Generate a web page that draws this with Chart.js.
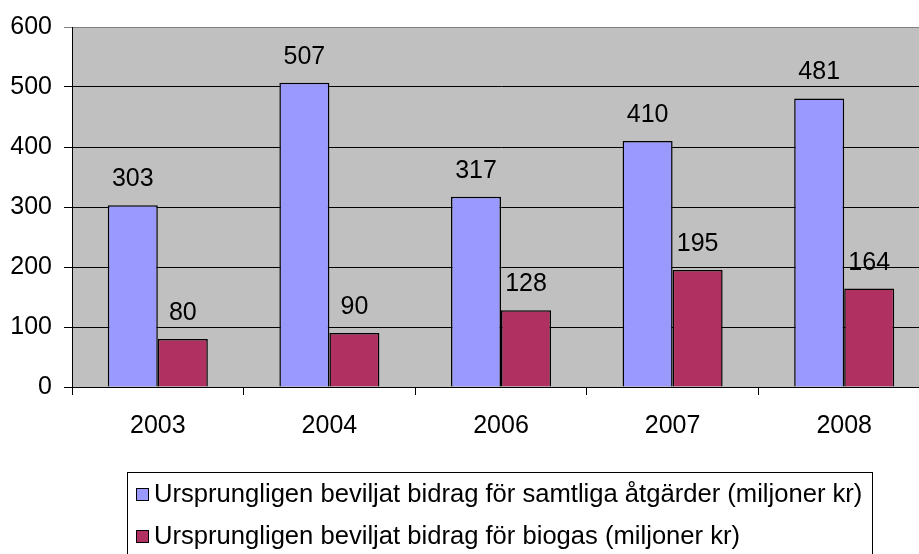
<!DOCTYPE html>
<html>
<head>
<meta charset="utf-8">
<script src="https://cdn.jsdelivr.net/npm/chart.js@4"></script>
<style>
  html, body { margin: 0; padding: 0; background: #fff; overflow: hidden; }
  #wrap { width: 930px; height: 560px; }
</style>
</head>
<body>
<div id="wrap"><canvas id="c" width="930" height="560"></canvas></div>
<script>
const categories = ["2003", "2004", "2006", "2007", "2008"];
const seriesAllLabel = "Ursprungligen beviljat bidrag för samtliga åtgärder (miljoner kr)";
const seriesBiogasLabel = "Ursprungligen beviljat bidrag för biogas (miljoner kr)";
const seriesAll = [303, 507, 317, 410, 481];
const seriesBiogas = [80, 90, 128, 195, 164];
const yMin = 0, yMax = 600, yStep = 100;

const FONT = "'Liberation Sans', Arial, sans-serif";

const plotBg = {
  id: 'plotBg',
  beforeDraw(chart) {
    const a = chart.chartArea, ctx = chart.ctx;
    ctx.save();
    ctx.fillStyle = '#C0C0C0';
    ctx.fillRect(a.left, a.top, a.right - a.left, a.bottom - a.top);
    ctx.restore();
  }
};

const valueLabels = {
  id: 'valueLabels',
  afterDatasetsDraw(chart) {
    const ctx = chart.ctx;
    ctx.save();
    ctx.font = '25px ' + FONT;
    ctx.fillStyle = '#000';
    ctx.textAlign = 'center';
    ctx.textBaseline = 'alphabetic';
    chart.data.datasets.forEach((ds, i) => {
      const meta = chart.getDatasetMeta(i);
      meta.data.forEach((bar, j) => {
        ctx.fillText(String(ds.data[j]), bar.x, bar.y - 19);
      });
    });
    ctx.restore();
  }
};

const boxLegend = {
  id: 'boxLegend',
  afterDraw(chart) {
    const ctx = chart.ctx;
    ctx.save();
    ctx.strokeStyle = '#000';
    ctx.lineWidth = 1;
    ctx.strokeRect(127.5, 472.5, 745, 120);
    ctx.font = '25.6px ' + FONT;
    ctx.textBaseline = 'middle';
    ctx.textAlign = 'left';
    chart.data.datasets.forEach((ds, i) => {
      const y = 488 + i * 42;
      ctx.fillStyle = ds.backgroundColor;
      ctx.fillRect(136, y, 13, 13);
      ctx.strokeStyle = '#000';
      ctx.strokeRect(136.5, y + 0.5, 12, 12);
      ctx.fillStyle = '#000';
      ctx.fillText(ds.label, 154, y + 7);
    });
    ctx.restore();
  }
};

new Chart(document.getElementById('c'), {
  type: 'bar',
  data: {
    labels: categories,
    datasets: [
      { label: seriesAllLabel, data: seriesAll, backgroundColor: '#9999FF', borderColor: '#000', borderWidth: 1.5 },
      { label: seriesBiogasLabel, data: seriesBiogas, backgroundColor: '#B03062', borderColor: '#000', borderWidth: 1.5 }
    ]
  },
  options: {
    responsive: false,
    animation: false,
    devicePixelRatio: 1,
    layout: { padding: { top: 25, left: 0, right: 0, bottom: 113 } },
    datasets: { bar: { categoryPercentage: 0.583, barPercentage: 1.0 } },
    plugins: { legend: { display: false }, tooltip: { enabled: false } },
    scales: {
      x: {
        grid: { offset: true, drawOnChartArea: false, drawTicks: true, tickLength: 8, color: '#000' },
        border: { color: '#000', width: 1 },
        ticks: { color: '#000', font: { family: FONT, size: 25 }, padding: 16, maxRotation: 0 },
        afterFit(s) { s.height = 60; }
      },
      y: {
        min: yMin, max: yMax,
        grid: {
          color: (c) => (c.tick && c.tick.value === yMax) ? '#808080' : '#000',
          tickLength: 8, lineWidth: 1
        },
        border: { color: '#000', width: 1 },
        ticks: { stepSize: yStep, color: '#000', font: { family: FONT, size: 25 }, padding: 12 },
        afterFit(s) { s.width = 72; }
      }
    }
  },
  plugins: [plotBg, valueLabels, boxLegend]
});
</script>
</body>
</html>
